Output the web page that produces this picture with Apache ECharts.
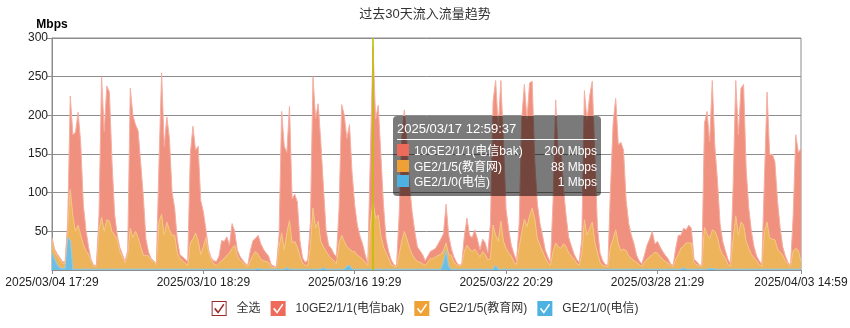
<!DOCTYPE html>
<html><head><meta charset="utf-8">
<script src="https://cdn.jsdelivr.net/npm/echarts@6/dist/echarts.min.js"></script>
<style>html,body{margin:0;padding:0;background:#fff}#c{width:850px;height:328px}</style>
</head><body><div id="c"></div>
<script>
// ---- data ----
const START_UTC = Date.UTC(2025, 2, 4, 17, 29, 37); // first sample: 2025/03/04 17:29:37
const STEP_HOURS = 2.5;        // sampling step of the arrays below
const LABEL_EVERY = 58;        // one axis label every 58 samples (145 h)
const seriesNames = ['10GE2/1/1(电信bak)', 'GE2/1/5(教育网)', 'GE2/1/0(电信)'];
const tipIndex = 123;          // sample shown in the tooltip: 2025/03/17 12:59:37

const telecomBak = [
3,3,2,3,2,2,5,121,105,128,
146,120,52,27,10,1,1,1,18,182,
129,173,167,90,27,5,5,3,2,5,
181,158,138,138,108,76,21,5,2,1,
1,77,183,115,136,118,56,35,18,5,
5,5,5,115,146,107,122,70,45,10,
3,2,4,5,9,26,22,24,10,32,
18,8,5,3,2,2,13,19,17,25,
20,15,11,8,3,2,1,15,157,134,
104,148,57,61,58,20,7,4,7,30,
170,142,152,129,78,28,13,13,9,9,
45,169,163,140,161,101,60,39,27,20,
10,2,90,200,128,142,105,55,18,9,
6,2,1,50,133,157,125,81,55,35,
19,15,12,6,8,9,11,11,15,20,
22,50,25,9,7,3,1,2,20,35,
18,18,25,18,9,16,15,9,45,160,
200,148,182,128,50,30,14,11,5,30,
148,174,139,172,164,74,45,28,20,10,
7,4,66,185,115,132,71,40,20,13,
7,5,4,20,167,148,171,182,114,33,
12,6,2,2,75,150,170,128,140,128,
65,42,30,22,9,5,3,9,18,23,
30,11,15,13,10,8,6,2,2,14,
25,17,23,17,23,19,4,4,1,1,
135,158,126,193,110,73,33,17,10,7,
3,70,175,130,173,182,93,52,30,14,
6,5,2,70,168,108,110,101,63,32,
11,6,2,1,45,147,127,146
];
const eduNet = [
17,10,12,10,7,6,13,66,69,49,
57,44,32,24,19,11,4,4,51,67,
49,64,62,49,44,39,23,16,8,19,
53,41,49,41,29,18,18,17,12,10,
6,62,71,44,61,51,44,44,21,14,
11,8,5,34,39,47,37,19,29,41,
22,13,7,5,8,11,14,18,21,27,
31,17,12,9,6,3,11,18,23,18,
13,11,10,9,3,2,2,29,47,25,
45,63,34,36,29,17,8,5,5,29,
79,53,62,36,27,23,18,14,11,7,
34,44,36,25,21,23,23,18,16,13,
9,5,59,88,66,70,44,29,21,14,
6,4,3,19,36,49,39,28,19,14,
10,9,7,5,9,14,14,16,18,19,
15,10,15,18,9,6,4,5,23,31,
26,23,26,21,16,23,19,12,14,57,
39,36,62,36,27,21,17,9,6,29,
47,65,55,69,79,65,39,31,23,15,
9,5,23,34,29,27,33,29,21,17,
13,8,5,19,64,44,53,61,35,21,
9,5,4,3,29,39,51,33,24,26,
24,17,14,11,9,6,4,9,13,16,
19,22,21,16,13,10,8,5,3,13,
19,27,28,34,34,34,9,6,5,3,
54,46,38,50,49,41,26,19,14,6,
4,39,69,44,61,57,36,27,19,15,
11,6,4,49,61,40,39,38,26,22,
18,11,7,4,24,27,24,10
];
const telecom = [
22,14,7,3,2,2,42,38,1,1,
1,1,1,1,1,1,1,1,1,1,
1,1,1,1,1,1,1,1,1,1,
1,1,1,1,1,1,1,1,1,1,
1,1,1,1,1,1,1,1,1,1,
1,1,1,1,1,1,1,1,1,1,
1,1,1,1,1,1,1,1,1,1,
1,1,1,1,1,1,1,1,1,2,
1,1,1,1,1,1,1,1,1,1,
3,1,1,1,1,1,1,1,1,1,
1,1,1,1,3,1,1,1,1,1,
1,1,1,5,6,1,1,1,1,1,
1,1,1,1,1,1,1,1,1,1,
1,1,1,1,1,1,1,1,1,1,
1,1,1,1,1,1,1,1,1,1,
10,25,5,1,1,1,1,1,1,1,
1,1,1,1,1,1,1,1,1,1,
6,1,1,1,1,1,1,1,1,1,
1,1,1,1,1,1,1,1,1,1,
1,1,1,1,1,1,1,1,1,1,
1,1,1,1,1,1,1,1,1,1,
1,1,1,1,1,1,1,1,1,1,
1,1,1,1,1,1,1,1,1,1,
1,1,1,1,1,1,1,1,1,1,
1,1,3,1,1,1,1,1,1,1,
1,1,2,2,1,1,1,1,1,1,
1,1,1,1,1,1,1,1,1,1,
1,1,1,1,1,1,1,1,1,1,
1,1,1,1,1,1,1,1
];

// ---- styling ----
const FONT = '"Liberation Sans", Arial, "Noto Sans CJK SC", sans-serif';
const legendColors = ['#ee6b5b', '#efa135', '#4db1e1'];
const areaColors = ['#f0917f', '#eeb45c', '#6dbee3'];
const edgeColors = ['#f5aea2', '#f3c680', '#8ccbe8'];
const GRID_COLOR = '#8c8c8c';
const CHECK_ICON = 'path://M0 0L15 0L15 15L0 15Z M2.5 8L6.5 12.8L12.8 3.8L11.6 2.8L6.5 10.2L3.7 6.8Z';
const ALL_ICON = 'path://M0 0L15 0L15 15L0 15Z M1 1L1 14L14 14L14 1Z M2.5 8L3.7 6.8L6.5 10.2L11.6 2.8L12.8 3.8L6.5 12.8Z';

function pad(n) { return (n < 10 ? '0' : '') + n; }
function fmtTime(hours) {
  const d = new Date(START_UTC + hours * 3600000);
  return d.getUTCFullYear() + '/' + pad(d.getUTCMonth() + 1) + '/' + pad(d.getUTCDate()) + ' ' +
    pad(d.getUTCHours()) + ':' + pad(d.getUTCMinutes()) + ':' + pad(d.getUTCSeconds());
}

// category labels: sample timestamps
const categories = telecomBak.map((_, i) => fmtTime(i * STEP_HOURS));
const LAST = categories.length - 1;
const showLabelAt = (idx) => idx % LABEL_EVERY === 0 || idx === LAST;

const byName = {};
byName[seriesNames[0]] = telecomBak;
byName[seriesNames[1]] = eduNet;
byName[seriesNames[2]] = telecom;

function areaSeries(k) {
  return {
    name: seriesNames[k], type: 'line', stack: 'total',
    data: byName[seriesNames[k]],
    showSymbol: false, symbol: 'none', smooth: false, sampling: null,
    color: legendColors[k],
    lineStyle: { width: 1, color: edgeColors[k] },
    areaStyle: { color: areaColors[k], opacity: 1 },
    emphasis: { disabled: true }
  };
}

const chart = echarts.init(document.getElementById('c'), null, { renderer: 'canvas' });
const option = {
  animation: false,
  textStyle: { fontFamily: FONT },
  title: {
    text: '过去30天流入流量趋势', left: 'center', top: 3,
    textStyle: { fontSize: 13, fontWeight: 'normal', color: '#333', fontFamily: FONT }
  },
  legend: {
    top: 296, left: 'center', itemWidth: 15, itemHeight: 15, itemGap: 10,
    textStyle: { fontSize: 12, color: '#333', fontFamily: FONT, padding: [0, 0, 0, 5] },
    data: [
      { name: '全选', icon: ALL_ICON, itemStyle: { color: '#9a2a2a', borderWidth: 0 } },
      { name: seriesNames[0], icon: CHECK_ICON, itemStyle: { color: legendColors[0], borderWidth: 0 } },
      { name: seriesNames[1], icon: CHECK_ICON, itemStyle: { color: legendColors[1], borderWidth: 0 } },
      { name: seriesNames[2], icon: CHECK_ICON, itemStyle: { color: legendColors[2], borderWidth: 0 } }
    ]
  },
  grid: {
    left: 52, right: 49, top: 38, bottom: 58, containLabel: false, outerBoundsMode: 'none',
    show: true, borderColor: GRID_COLOR, borderWidth: 1, backgroundColor: 'transparent'
  },
  tooltip: {
    trigger: 'axis', triggerOn: 'none', alwaysShowContent: true, transitionDuration: 0,
    position: [393, 116],
    backgroundColor: 'rgba(0,0,0,0.52)', borderWidth: 0, padding: [4, 4, 5, 4],
    textStyle: { color: '#fff', fontSize: 12, fontFamily: FONT },
    extraCssText: 'box-shadow:none;border-radius:4px;width:200px;',
    axisPointer: { type: 'line', animation: false, z: 50, lineStyle: { color: '#bebe00', width: 1.6, type: 'solid' }, label: { show: false } },
    formatter: function (params) {
      const p0 = params.filter(p => p.seriesName !== '全选')[0];
      const i = p0.dataIndex;
      let html = '<div style="font-size:13px;line-height:17px;padding-bottom:2px;border-bottom:1px solid #fff;margin-bottom:4px;">' + categories[i] + '</div>';
      seriesNames.forEach((n, k) => {
        html += '<div style="display:flex;justify-content:space-between;line-height:15.5px;height:15.5px;font-size:12px;">' +
          '<span><span style="display:inline-block;width:12px;height:12px;background:' + legendColors[k] + ';margin-right:5px;vertical-align:-1px;"></span>' + n + '</span>' +
          '<span>' + byName[n][i] + ' Mbps</span></div>';
      });
      return html;
    }
  },
  xAxis: {
    type: 'category', data: categories, boundaryGap: false,
    axisLine: { show: true, lineStyle: { color: GRID_COLOR } },
    axisTick: { show: true, length: 4, interval: (idx) => showLabelAt(idx), lineStyle: { color: GRID_COLOR } },
    splitLine: { show: false },
    axisLabel: {
      color: '#222', fontSize: 12, margin: 7, fontFamily: FONT, hideOverlap: false,
      interval: (idx) => showLabelAt(idx),
      formatter: (v) => v.slice(0, 16)
    }
  },
  yAxis: {
    type: 'value', min: 0, max: 300, interval: 50,
    name: 'Mbps', nameLocation: 'end', nameGap: 7,
    nameTextStyle: { fontWeight: 'bold', fontSize: 12, color: '#000', align: 'center', fontFamily: FONT },
    axisLine: { show: true, lineStyle: { color: GRID_COLOR } },
    axisTick: { show: true, length: 5, lineStyle: { color: GRID_COLOR } },
    splitLine: { show: true, lineStyle: { color: GRID_COLOR, width: 1 } },
    axisLabel: { color: '#222', fontSize: 12, margin: 4, showMinLabel: false, fontFamily: FONT }
  },
  series: [
    areaSeries(2),
    areaSeries(1),
    areaSeries(0),
    { name: '全选', type: 'line', data: [], color: '#9a2a2a' }
  ]
};
chart.setOption(option);

function showTip() {
  chart.dispatchAction({ type: 'showTip', seriesIndex: 2, dataIndex: tipIndex });
}
showTip();
setTimeout(showTip, 50);
</script>
</body></html>
